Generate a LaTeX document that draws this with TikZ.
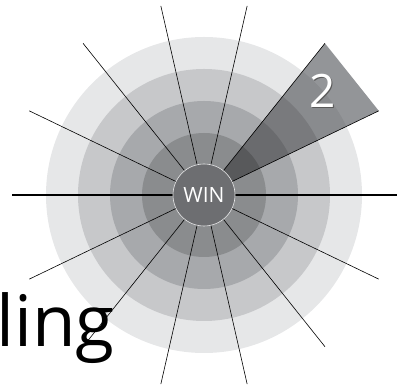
\documentclass[tikz,border=0pt]{standalone}
\usepackage{fontspec}
\setmainfont{Open Sans}

\definecolor{ringA}{HTML}{E6E7E8}
\definecolor{ringB}{HTML}{C7C8CA}
\definecolor{ringC}{HTML}{A7A9AC}
\definecolor{ringD}{HTML}{8A8C8E}
\definecolor{hubgray}{HTML}{6D6E71}
\definecolor{secO}{HTML}{939598}
\definecolor{secA}{HTML}{898B8E}
\definecolor{secB}{HTML}{797A7D}
\definecolor{secC}{HTML}{6A6B6E}
\definecolor{secD}{HTML}{58595B}

\begin{document}
\begin{tikzpicture}[
    x=1pt, y=1pt,
    ray/.style={draw=black, line width=0.6pt},
    axisray/.style={draw=black, line width=1.3pt},
    hub/.style={circle, fill=hubgray, draw=white!85!hubgray, line width=0.6pt, minimum size=62pt, inner sep=0pt, text=white, font=\fontsize{21}{21}\selectfont}
]
\useasboundingbox (0,0) rectangle (404,390);
\coordinate (c) at (204,195);

% Rings
\foreach \r/\col in {158/ringA, 126/ringB, 94/ringC, 62/ringD}
    \fill[\col] (c) circle[radius=\r pt];

% Highlighted sector
\begin{scope}
    \clip (c) -- +(25.714:194) -- +(51.429:194) -- cycle;
    \foreach \r/\col in {200/secO, 158/secA, 126/secB, 94/secC, 62/secD}
        \fill[\col] (c) circle[radius=\r pt];
\end{scope}

% Rays
\foreach \i in {1,...,6,8,9,...,13}
    \draw[ray] (c) -- +({\i*360/14}:194);
\draw[axisray] (c) +(180:192) -- +(0:193);

% Labels
\node[hub] (win) at (c) {WIN};
\node[text=white, font=\fontsize{46}{46}\selectfont] (two) at (322.5,298.5) {\rlap{\color{black!65}\kern0.9pt\raisebox{-0.9pt}{2}}2};
\node[anchor=base west, inner sep=0pt, font=\fontsize{71}{71}\selectfont] (word) at (-4,43) {ling};

\end{tikzpicture}
\end{document}
